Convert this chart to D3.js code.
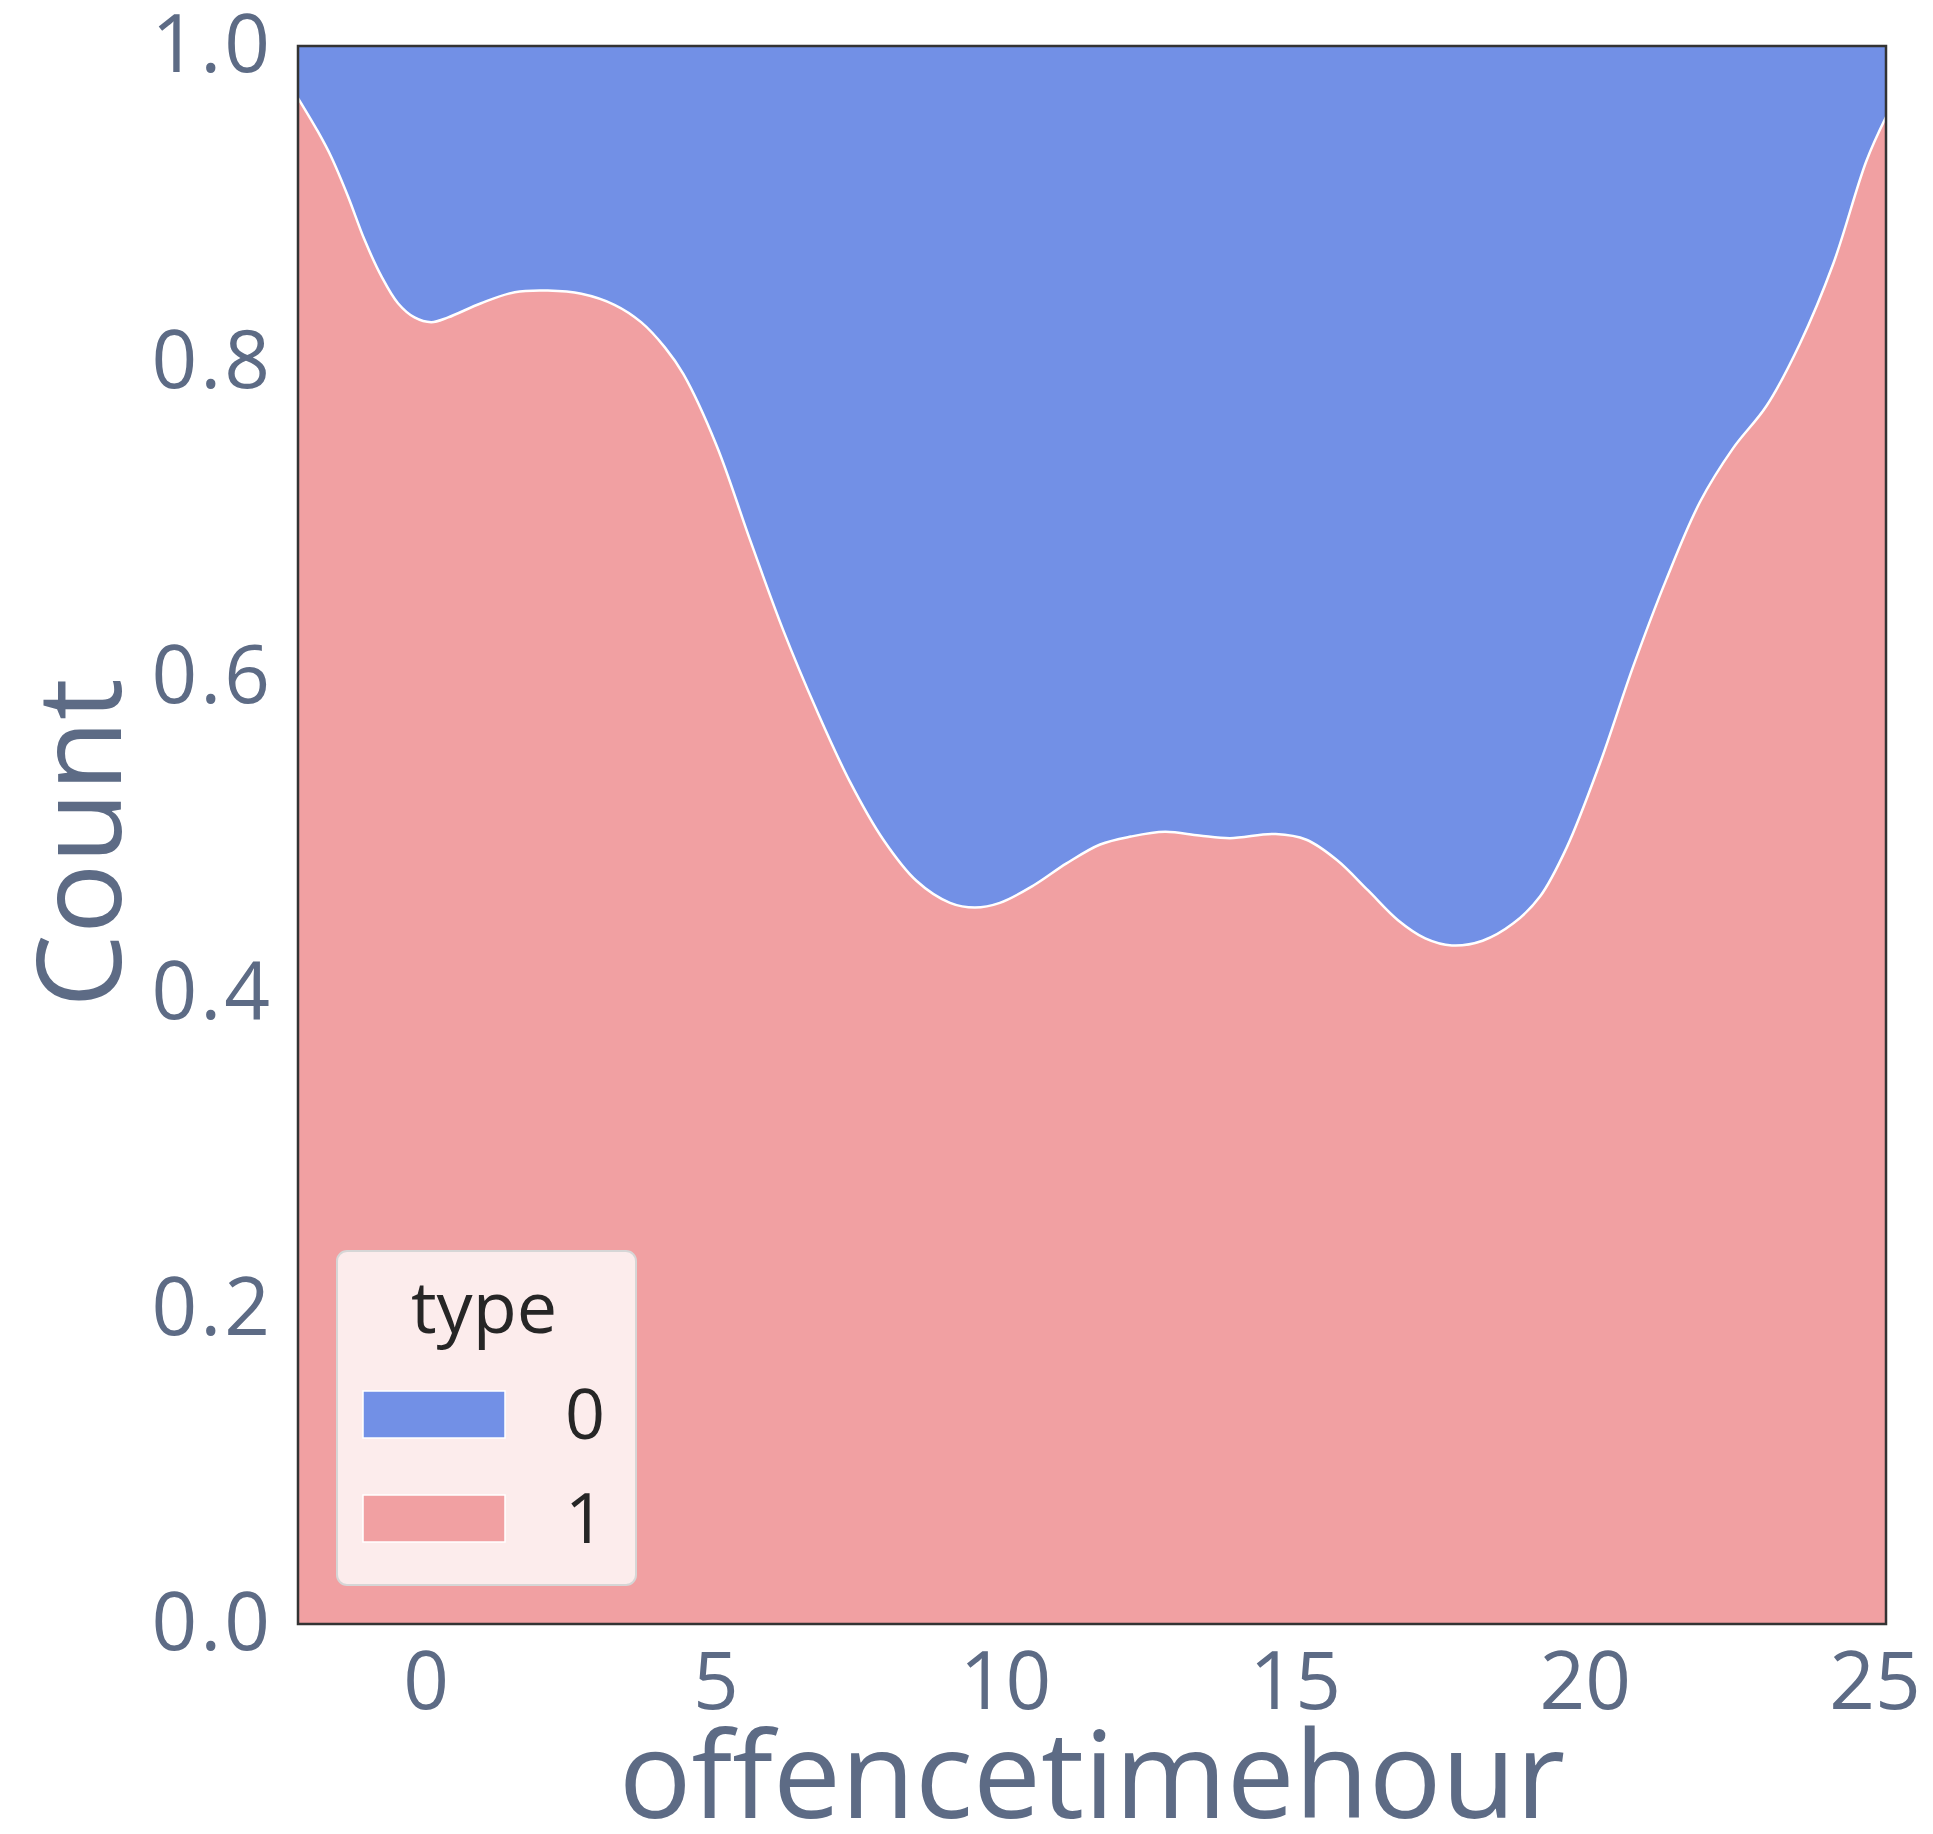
<!DOCTYPE html>
<html>
<head>
<meta charset="utf-8">
<script src="https://cdn.jsdelivr.net/npm/d3@7"></script>
<style>
  body { margin: 0; background: #fff; }
  text { font-family: "Open Sans", sans-serif; }
</style>
</head>
<body>
<div id="chart"></div>
<script>
// Hours (KDE evaluation points) and share of type 1 at each point.
const hours = [-2.2, -1.86, -1.63, -1.34, -1.05, -0.76, -0.475, -0.19, 0.1, 0.39, 0.96, 1.54, 2.11, 2.69,
  3.26, 3.72, 4.13, 4.45, 5.02, 5.6, 6.17, 6.75, 7.32, 7.9, 8.47, 9.05, 9.48, 9.91, 10.49, 11.06, 11.64,
  12.17, 12.76, 13.35, 13.88, 14.67, 15.2, 15.73, 16.26, 16.78, 17.25, 17.71, 18.24, 18.77, 19.23, 19.69,
  20.26, 20.84, 21.41, 21.99, 22.56, 23.14, 23.71, 24.29, 24.86, 25.2];
const shareType1 = [0.967, 0.946, 0.93, 0.905, 0.877, 0.854, 0.837, 0.828, 0.825, 0.828, 0.837, 0.844, 0.845, 0.843,
  0.836, 0.825, 0.809, 0.792, 0.747, 0.687, 0.63, 0.579, 0.534, 0.497, 0.471, 0.457, 0.454, 0.457, 0.468, 0.482, 0.494,
  0.499, 0.502, 0.4997, 0.498, 0.5006, 0.497, 0.484, 0.465, 0.446, 0.4345, 0.43, 0.433, 0.444, 0.461, 0.492,
  0.545, 0.607, 0.662, 0.711, 0.745, 0.772, 0.811, 0.862, 0.927, 0.955];

const xTicks = [0, 5, 10, 15, 20, 25];
const yTicks = [0, 0.2, 0.4, 0.6, 0.8, 1.0];
const types = ["0", "1"];
const typeColors = ["#7290e6", "#f1a0a2"];

const width = 1933;
const height = 1834;
const margin = {top: 46, right: 47, bottom: 210, left: 298};

const svg = d3.select("#chart").append("svg")
    .attr("width", width)
    .attr("height", height);

const x = d3.scaleLinear()
    .domain([-2.2, 25.2])
    .range([margin.left, width - margin.right]);

const y = d3.scaleLinear()
    .domain([0, 1])
    .range([height - margin.bottom, margin.top]);

const data = hours.map((h, i) => ({h, v: shareType1[i]}));
const curve = d3.curveCatmullRom.alpha(0.5);

// Type 0 sits on top of type 1 (normalised stack)
svg.append("path")
    .datum(data)
    .attr("fill", typeColors[0])
    .attr("d", d3.area()
        .x(d => x(d.h))
        .y0(d => y(d.v))
        .y1(y(1))
        .curve(curve));

svg.append("path")
    .datum(data)
    .attr("fill", typeColors[1])
    .attr("d", d3.area()
        .x(d => x(d.h))
        .y0(y(0))
        .y1(d => y(d.v))
        .curve(curve));

// white edge between the two layers
svg.append("path")
    .datum(data)
    .attr("fill", "none")
    .attr("stroke", "#fff")
    .attr("stroke-width", 2.5)
    .attr("d", d3.line()
        .x(d => x(d.h))
        .y(d => y(d.v))
        .curve(curve));

// frame
svg.append("rect")
    .attr("x", x.range()[0])
    .attr("y", y.range()[1])
    .attr("width", x.range()[1] - x.range()[0])
    .attr("height", y.range()[0] - y.range()[1])
    .attr("fill", "none")
    .attr("stroke", "#333")
    .attr("stroke-width", 2.5);

const tickColor = "#5d6b85";

const gx = svg.append("g")
    .attr("transform", `translate(0,${y.range()[0]})`)
    .call(d3.axisBottom(x).tickValues(xTicks).tickSize(0).tickPadding(28).tickFormat(d3.format("d")));
gx.select(".domain").remove();
gx.selectAll("text")
    .attr("fill", tickColor)
    .style("font-size", "80px");

const gy = svg.append("g")
    .attr("transform", `translate(${x.range()[0]},0)`)
    .call(d3.axisLeft(y).tickValues(yTicks).tickSize(0).tickPadding(25).tickFormat(d3.format(".1f")));
gy.select(".domain").remove();
gy.selectAll("text")
    .attr("fill", tickColor)
    .style("font-size", "80px")
    .style("letter-spacing", "3px");

// axis titles
svg.append("text")
    .attr("x", (x.range()[0] + x.range()[1]) / 2)
    .attr("y", 1818)
    .attr("text-anchor", "middle")
    .attr("fill", tickColor)
    .style("font-size", "121px")
    .text("offencetimehour");

svg.append("text")
    .attr("transform", "translate(121,843) rotate(-90)")
    .attr("text-anchor", "middle")
    .attr("fill", tickColor)
    .style("font-size", "117px")
    .text("Count");

// legend
const legend = svg.append("g");
legend.append("rect")
    .attr("x", 337)
    .attr("y", 1251)
    .attr("width", 299)
    .attr("height", 334)
    .attr("rx", 10)
    .attr("fill", "#fff")
    .attr("fill-opacity", 0.8)
    .attr("stroke", "#d6d6d6")
    .attr("stroke-width", 2);

legend.append("text")
    .attr("x", 484)
    .attr("y", 1333)
    .attr("text-anchor", "middle")
    .attr("fill", "#262626")
    .style("font-size", "72px")
    .text("type");

const item = legend.selectAll(".item")
    .data(types)
    .join("g")
    .attr("transform", (d, i) => `translate(0,${1391 + i * 104})`);

item.append("rect")
    .attr("x", 363)
    .attr("width", 142)
    .attr("height", 47)
    .attr("fill", (d, i) => typeColors[i])
    .attr("stroke", "#fff")
    .attr("stroke-width", 1.5);

item.append("text")
    .attr("x", 565)
    .attr("y", 48)
    .attr("fill", "#262626")
    .style("font-size", "70px")
    .text(d => d);
</script>
</body>
</html>
